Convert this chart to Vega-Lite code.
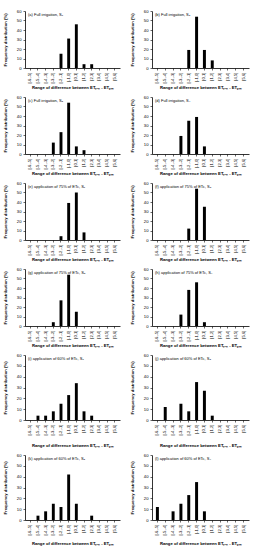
{
  "$schema": "https://vega.github.io/schema/vega-lite/v6.json",
  "padding": {"left": 3, "top": 9, "right": 2, "bottom": 0},
  "background": "white",
  "config": {
    "font": "Liberation Sans",
    "view": {"stroke": null},
    "axis": {"labelFontSize": 4.2, "titleFontSize": 4.2, "titleFontWeight": "bold", "tickSize": 2, "domainColor": "#000", "tickColor": "#000", "labelColor": "#000", "titleColor": "#000", "domainWidth": 0.8, "tickWidth": 0.6, "grid": false},
    "axisY": {"titlePadding": 9},
    "title": {"fontSize": 4, "fontWeight": "normal", "anchor": "start", "frame": "group", "offset": -8, "dx": 3, "color": "#000"},
    "bar": {"color": "#000"}
  },
  "datasets": {
    "freq": [
      {"panel": "a", "bin": "[-2,-1]", "value": 15}, {"panel": "a", "bin": "[-1,0]", "value": 31}, {"panel": "a", "bin": "[0,1]", "value": 46}, {"panel": "a", "bin": "[1,2]", "value": 4}, {"panel": "a", "bin": "[2,3]", "value": 4},
      {"panel": "b", "bin": "[-2,-1]", "value": 19}, {"panel": "b", "bin": "[-1,0]", "value": 54}, {"panel": "b", "bin": "[0,1]", "value": 19}, {"panel": "b", "bin": "[1,2]", "value": 8},
      {"panel": "c", "bin": "[-3,-2]", "value": 12}, {"panel": "c", "bin": "[-2,-1]", "value": 23}, {"panel": "c", "bin": "[-1,0]", "value": 54}, {"panel": "c", "bin": "[0,1]", "value": 8}, {"panel": "c", "bin": "[1,2]", "value": 4},
      {"panel": "d", "bin": "[-3,-2]", "value": 19}, {"panel": "d", "bin": "[-2,-1]", "value": 35}, {"panel": "d", "bin": "[-1,0]", "value": 39}, {"panel": "d", "bin": "[0,1]", "value": 8},
      {"panel": "e", "bin": "[-2,-1]", "value": 4}, {"panel": "e", "bin": "[-1,0]", "value": 39}, {"panel": "e", "bin": "[0,1]", "value": 50}, {"panel": "e", "bin": "[1,2]", "value": 8},
      {"panel": "f", "bin": "[-2,-1]", "value": 12}, {"panel": "f", "bin": "[-1,0]", "value": 54}, {"panel": "f", "bin": "[0,1]", "value": 35},
      {"panel": "g", "bin": "[-3,-2]", "value": 4}, {"panel": "g", "bin": "[-2,-1]", "value": 27}, {"panel": "g", "bin": "[-1,0]", "value": 54}, {"panel": "g", "bin": "[0,1]", "value": 15},
      {"panel": "h", "bin": "[-3,-2]", "value": 12}, {"panel": "h", "bin": "[-2,-1]", "value": 38}, {"panel": "h", "bin": "[-1,0]", "value": 46}, {"panel": "h", "bin": "[0,1]", "value": 4},
      {"panel": "i", "bin": "[-5,-4]", "value": 4}, {"panel": "i", "bin": "[-4,-3]", "value": 4}, {"panel": "i", "bin": "[-3,-2]", "value": 8}, {"panel": "i", "bin": "[-2,-1]", "value": 15}, {"panel": "i", "bin": "[-1,0]", "value": 23}, {"panel": "i", "bin": "[0,1]", "value": 34}, {"panel": "i", "bin": "[1,2]", "value": 8}, {"panel": "i", "bin": "[2,3]", "value": 4},
      {"panel": "j", "bin": "[-5,-4]", "value": 12}, {"panel": "j", "bin": "[-3,-2]", "value": 15}, {"panel": "j", "bin": "[-2,-1]", "value": 8}, {"panel": "j", "bin": "[-1,0]", "value": 35}, {"panel": "j", "bin": "[0,1]", "value": 27}, {"panel": "j", "bin": "[1,2]", "value": 4},
      {"panel": "k", "bin": "[-5,-4]", "value": 4}, {"panel": "k", "bin": "[-4,-3]", "value": 8}, {"panel": "k", "bin": "[-3,-2]", "value": 15}, {"panel": "k", "bin": "[-2,-1]", "value": 12}, {"panel": "k", "bin": "[-1,0]", "value": 42}, {"panel": "k", "bin": "[0,1]", "value": 15}, {"panel": "k", "bin": "[2,3]", "value": 4},
      {"panel": "l", "bin": "[-6,-5]", "value": 12}, {"panel": "l", "bin": "[-4,-3]", "value": 8}, {"panel": "l", "bin": "[-3,-2]", "value": 15}, {"panel": "l", "bin": "[-2,-1]", "value": 23}, {"panel": "l", "bin": "[-1,0]", "value": 35}, {"panel": "l", "bin": "[0,1]", "value": 8}
    ]
  },
  "columns": 2,
  "spacing": {"row": 4, "column": 10},
  "concat": [
    {"title": "(a) Full irrigation, S\u2081", "width": 95, "height": 57, "data": {"name": "freq"}, "transform": [{"filter": "datum.panel == 'a'"}], "mark": "bar",
     "encoding": {"x": {"field": "bin", "type": "nominal", "sort": null, "scale": {"domain": ["[-6,-5]","[-5,-4]","[-4,-3]","[-3,-2]","[-2,-1]","[-1,0]","[0,1]","[1,2]","[2,3]","[3,4]","[4,5]","[5,6]"], "paddingInner": 0.62, "paddingOuter": 0.5}, "axis": {"title": "Range of difference between ET\u209b\u2091\u2099 - ET\u209a\u2098", "labelAngle": -90, "titlePadding": 3}},
                  "y": {"field": "value", "type": "quantitative", "scale": {"domain": [0, 60]}, "axis": {"title": "Frequency distribution (%)", "values": [0,10,20,30,40,50,60]}}}},
    {"title": "(b) Full irrigation, S\u2082", "width": 97, "height": 57, "data": {"name": "freq"}, "transform": [{"filter": "datum.panel == 'b'"}], "mark": "bar",
     "encoding": {"x": {"field": "bin", "type": "nominal", "sort": null, "scale": {"domain": ["[-6,-5]","[-5,-4]","[-4,-3]","[-3,-2]","[-2,-1]","[-1,0]","[0,1]","[1,2]","[2,3]","[3,4]","[4,5]","[5,6]"], "paddingInner": 0.62, "paddingOuter": 0.5}, "axis": {"title": "Range of difference between ET\u209b\u2091\u2099 - ET\u209a\u2098", "labelAngle": -90, "titlePadding": 3}},
                  "y": {"field": "value", "type": "quantitative", "scale": {"domain": [0, 60]}, "axis": {"title": "Frequency distribution (%)", "values": [0,10,20,30,40,50,60]}}}},
    {"title": "(c) Full irrigation, S\u2083", "width": 95, "height": 57, "data": {"name": "freq"}, "transform": [{"filter": "datum.panel == 'c'"}], "mark": "bar",
     "encoding": {"x": {"field": "bin", "type": "nominal", "sort": null, "scale": {"domain": ["[-6,-5]","[-5,-4]","[-4,-3]","[-3,-2]","[-2,-1]","[-1,0]","[0,1]","[1,2]","[2,3]","[3,4]","[4,5]","[5,6]"], "paddingInner": 0.62, "paddingOuter": 0.5}, "axis": {"title": "Range of difference between ET\u209b\u2091\u2099 - ET\u209a\u2098", "labelAngle": -90, "titlePadding": 3}},
                  "y": {"field": "value", "type": "quantitative", "scale": {"domain": [0, 60]}, "axis": {"title": "Frequency distribution (%)", "values": [0,10,20,30,40,50,60]}}}},
    {"title": "(d) Full irrigation, S\u2084", "width": 97, "height": 57, "data": {"name": "freq"}, "transform": [{"filter": "datum.panel == 'd'"}], "mark": "bar",
     "encoding": {"x": {"field": "bin", "type": "nominal", "sort": null, "scale": {"domain": ["[-6,-5]","[-5,-4]","[-4,-3]","[-3,-2]","[-2,-1]","[-1,0]","[0,1]","[1,2]","[2,3]","[3,4]","[4,5]","[5,6]"], "paddingInner": 0.62, "paddingOuter": 0.5}, "axis": {"title": "Range of difference between ET\u209b\u2091\u2099 - ET\u209a\u2098", "labelAngle": -90, "titlePadding": 3}},
                  "y": {"field": "value", "type": "quantitative", "scale": {"domain": [0, 60]}, "axis": {"title": "Frequency distribution (%)", "values": [0,10,20,30,40,50,60]}}}},
    {"title": "(e) application of 75% of ETc, S\u2081", "width": 95, "height": 57, "data": {"name": "freq"}, "transform": [{"filter": "datum.panel == 'e'"}], "mark": "bar",
     "encoding": {"x": {"field": "bin", "type": "nominal", "sort": null, "scale": {"domain": ["[-6,-5]","[-5,-4]","[-4,-3]","[-3,-2]","[-2,-1]","[-1,0]","[0,1]","[1,2]","[2,3]","[3,4]","[4,5]","[5,6]"], "paddingInner": 0.62, "paddingOuter": 0.5}, "axis": {"title": "Range of difference between ET\u209b\u2091\u2099 - ET\u209a\u2098", "labelAngle": -90, "titlePadding": 3}},
                  "y": {"field": "value", "type": "quantitative", "scale": {"domain": [0, 60]}, "axis": {"title": "Frequency distribution (%)", "values": [0,10,20,30,40,50,60]}}}},
    {"title": "(f) application of 75% of ETc, S\u2082", "width": 97, "height": 57, "data": {"name": "freq"}, "transform": [{"filter": "datum.panel == 'f'"}], "mark": "bar",
     "encoding": {"x": {"field": "bin", "type": "nominal", "sort": null, "scale": {"domain": ["[-6,-5]","[-5,-4]","[-4,-3]","[-3,-2]","[-2,-1]","[-1,0]","[0,1]","[1,2]","[2,3]","[3,4]","[4,5]","[5,6]"], "paddingInner": 0.62, "paddingOuter": 0.5}, "axis": {"title": "Range of difference between ET\u209b\u2091\u2099 - ET\u209a\u2098", "labelAngle": -90, "titlePadding": 3}},
                  "y": {"field": "value", "type": "quantitative", "scale": {"domain": [0, 60]}, "axis": {"title": "Frequency distribution (%)", "values": [0,10,20,30,40,50,60]}}}},
    {"title": "(g) application of 75% of ETc, S\u2083", "width": 95, "height": 57, "data": {"name": "freq"}, "transform": [{"filter": "datum.panel == 'g'"}], "mark": "bar",
     "encoding": {"x": {"field": "bin", "type": "nominal", "sort": null, "scale": {"domain": ["[-6,-5]","[-5,-4]","[-4,-3]","[-3,-2]","[-2,-1]","[-1,0]","[0,1]","[1,2]","[2,3]","[3,4]","[4,5]","[5,6]"], "paddingInner": 0.62, "paddingOuter": 0.5}, "axis": {"title": "Range of difference between ET\u209b\u2091\u2099 - ET\u209a\u2098", "labelAngle": -90, "titlePadding": 3}},
                  "y": {"field": "value", "type": "quantitative", "scale": {"domain": [0, 60]}, "axis": {"title": "Frequency distribution (%)", "values": [0,10,20,30,40,50,60]}}}},
    {"title": "(h) application of 75% of ETc, S\u2084", "width": 97, "height": 57, "data": {"name": "freq"}, "transform": [{"filter": "datum.panel == 'h'"}], "mark": "bar",
     "encoding": {"x": {"field": "bin", "type": "nominal", "sort": null, "scale": {"domain": ["[-6,-5]","[-5,-4]","[-4,-3]","[-3,-2]","[-2,-1]","[-1,0]","[0,1]","[1,2]","[2,3]","[3,4]","[4,5]","[5,6]"], "paddingInner": 0.62, "paddingOuter": 0.5}, "axis": {"title": "Range of difference between ET\u209b\u2091\u2099 - ET\u209a\u2098", "labelAngle": -90, "titlePadding": 3}},
                  "y": {"field": "value", "type": "quantitative", "scale": {"domain": [0, 60]}, "axis": {"title": "Frequency distribution (%)", "values": [0,10,20,30,40,50,60]}}}},
    {"title": "(i) application of 60% of ETc, S\u2081", "width": 95, "height": 65, "data": {"name": "freq"}, "transform": [{"filter": "datum.panel == 'i'"}], "mark": "bar",
     "encoding": {"x": {"field": "bin", "type": "nominal", "sort": null, "scale": {"domain": ["[-6,-5]","[-5,-4]","[-4,-3]","[-3,-2]","[-2,-1]","[-1,0]","[0,1]","[1,2]","[2,3]","[3,4]","[4,5]","[5,6]"], "paddingInner": 0.62, "paddingOuter": 0.5}, "axis": {"title": "Range of difference between ET\u209b\u2091\u2099 - ET\u209a\u2098", "labelAngle": -90, "titlePadding": 9}},
                  "y": {"field": "value", "type": "quantitative", "scale": {"domain": [0, 60]}, "axis": {"title": "Frequency distribution (%)", "values": [0,10,20,30,40,50,60]}}}},
    {"title": "(j) application of 60% of ETc, S\u2082", "width": 97, "height": 65, "data": {"name": "freq"}, "transform": [{"filter": "datum.panel == 'j'"}], "mark": "bar",
     "encoding": {"x": {"field": "bin", "type": "nominal", "sort": null, "scale": {"domain": ["[-6,-5]","[-5,-4]","[-4,-3]","[-3,-2]","[-2,-1]","[-1,0]","[0,1]","[1,2]","[2,3]","[3,4]","[4,5]","[5,6]"], "paddingInner": 0.62, "paddingOuter": 0.5}, "axis": {"title": "Range of difference between ET\u209b\u2091\u2099 - ET\u209a\u2098", "labelAngle": -90, "titlePadding": 9}},
                  "y": {"field": "value", "type": "quantitative", "scale": {"domain": [0, 60]}, "axis": {"title": "Frequency distribution (%)", "values": [0,10,20,30,40,50,60]}}}},
    {"title": "(k) application of 60% of ETc, S\u2083", "width": 95, "height": 65, "data": {"name": "freq"}, "transform": [{"filter": "datum.panel == 'k'"}], "mark": "bar",
     "encoding": {"x": {"field": "bin", "type": "nominal", "sort": null, "scale": {"domain": ["[-6,-5]","[-5,-4]","[-4,-3]","[-3,-2]","[-2,-1]","[-1,0]","[0,1]","[1,2]","[2,3]","[3,4]","[4,5]","[5,6]"], "paddingInner": 0.62, "paddingOuter": 0.5}, "axis": {"title": "Range of difference between ET\u209b\u2091\u2099 - ET\u209a\u2098", "labelAngle": -90, "titlePadding": 7}},
                  "y": {"field": "value", "type": "quantitative", "scale": {"domain": [0, 60]}, "axis": {"title": "Frequency distribution (%)", "values": [0,10,20,30,40,50,60]}}}},
    {"title": "(l) application of 60% of ETc, S\u2084", "width": 97, "height": 65, "data": {"name": "freq"}, "transform": [{"filter": "datum.panel == 'l'"}], "mark": "bar",
     "encoding": {"x": {"field": "bin", "type": "nominal", "sort": null, "scale": {"domain": ["[-6,-5]","[-5,-4]","[-4,-3]","[-3,-2]","[-2,-1]","[-1,0]","[0,1]","[1,2]","[2,3]","[3,4]","[4,5]","[5,6]"], "paddingInner": 0.62, "paddingOuter": 0.5}, "axis": {"title": "Range of difference between ET\u209b\u2091\u2099 - ET\u209a\u2098", "labelAngle": -90, "titlePadding": 7}},
                  "y": {"field": "value", "type": "quantitative", "scale": {"domain": [0, 60]}, "axis": {"title": "Frequency distribution (%)", "values": [0,10,20,30,40,50,60]}}}}
  ]
}
